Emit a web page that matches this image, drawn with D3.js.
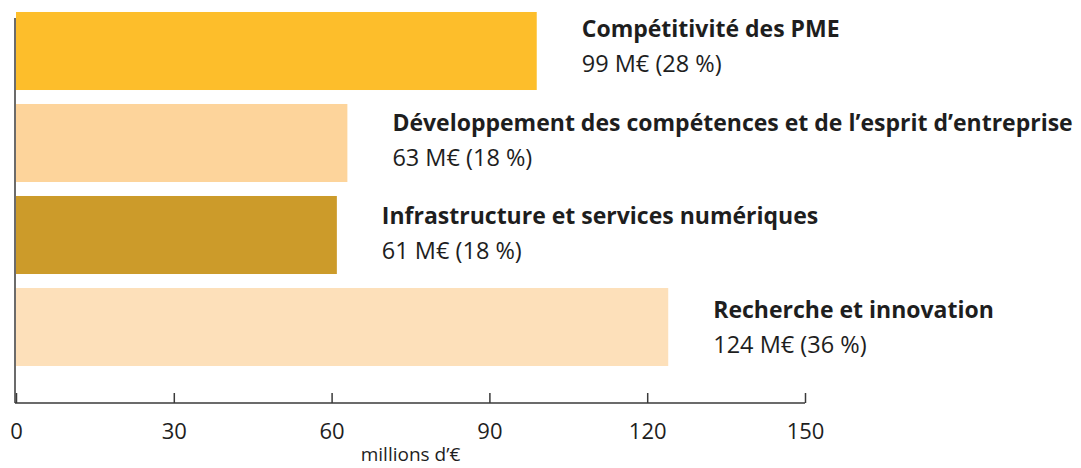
<!DOCTYPE html>
<html>
<head>
<meta charset="utf-8">
<script src="https://cdn.jsdelivr.net/npm/d3@7"></script>
<style>
  body { margin: 0; background: #fff; }
  text { font-family: "Open Sans", sans-serif; fill: #1e1e1e; }
</style>
</head>
<body>
<div class="chart"></div>
<script>
// data
const categories = [
    'Compétitivité des PME',
    'Développement des compétences et de l\u2019esprit d\u2019entreprise',
    'Infrastructure et services numériques',
    'Recherche et innovation'
];
const values = [99, 63, 61, 124];
const shares = [28, 18, 18, 36];
const colors = ['#fdbe2b', '#fdd49b', '#cc9b2a', '#fde0ba'];
const ticks = [0, 30, 60, 90, 120, 150];
const axisTitle = 'millions d\u2019€';

const ancho = 1081,
    alto = 468;

const svg = d3.select('.chart').append('svg')
    .attr('width', ancho)
    .attr('height', alto);

const x = d3.scaleLinear()
    .domain([0, 150])
    .range([16, 805]);

const y = d3.scaleBand()
    .domain(categories)
    .range([5, 373])
    .paddingInner(0.152)
    .paddingOuter(0.076);

// las etiquetas tienen su propio espaciado (linea base del titulo)
const yLabel = d3.scalePoint()
    .domain(categories)
    .range([37, 318]);

const axisY = 403;

//barras
svg.append('g')
    .selectAll('rect')
    .data(categories)
    .enter().append('rect')
    .attr('x', x(0))
    .attr('y', d => y(d))
    .attr('width', (d, i) => x(values[i]) - x(0))
    .attr('height', y.bandwidth())
    .style('fill', (d, i) => colors[i]);

//eje vertical
svg.append('line')
    .attr('x1', 15).attr('x2', 15)
    .attr('y1', 18).attr('y2', axisY)
    .attr('stroke', '#3a3a3a')
    .attr('stroke-width', 1.5);

//eje x
const xAxis = d3.axisBottom(x)
    .tickValues(ticks)
    .tickSize(0)
    .tickPadding(0);

const gx = svg.append('g')
    .attr('transform', 'translate(0,' + axisY + ')')
    .call(xAxis)
    .attr('font-size', null)
    .attr('font-family', null);

gx.select('.domain')
    .attr('d', 'M' + (x(0) - 1) + ',0H' + x(150))
    .attr('stroke', '#3a3a3a')
    .attr('stroke-width', 1.5);

gx.selectAll('.tick line')
    .attr('y1', 0)
    .attr('y2', -10)
    .attr('stroke', '#3a3a3a')
    .attr('stroke-width', 1.5);

gx.selectAll('.tick text')
    .attr('y', 36)
    .attr('dy', null)
    .attr('fill', null)
    .style('font-size', '22px');

svg.append('text')
    .attr('x', (x(0) + x(150)) / 2)
    .attr('y', 461)
    .attr('text-anchor', 'middle')
    .style('font-size', '19px')
    .text(axisTitle);

//etiquetas
const labels = svg.append('g')
    .selectAll('g')
    .data(categories)
    .enter().append('g')
    .attr('transform', (d, i) => 'translate(' + (x(values[i]) + 45) + ',' + yLabel(d) + ')');

labels.append('text')
    .style('font-size', '23px')
    .style('font-weight', 'bold')
    .text(d => d);

labels.append('text')
    .attr('y', 35)
    .style('font-size', '23.5px')
    .style('font-weight', 400)
    .text((d, i) => values[i] + ' M€ (' + shares[i] + ' %)');
</script>
</body>
</html>
